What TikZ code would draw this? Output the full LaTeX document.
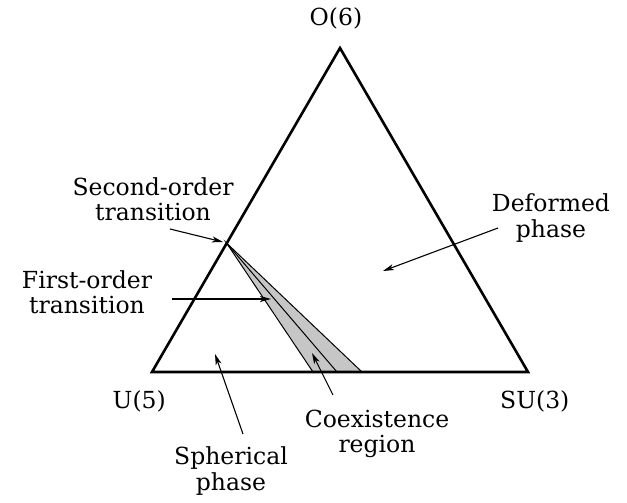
\documentclass[tikz,border=0pt]{standalone}
\usepackage{fontspec}
\setmainfont{DejaVu Serif}
\usetikzlibrary{arrows.meta}

\begin{document}
\begin{tikzpicture}[x=1pt,y=-1pt,>={Stealth[length=11pt,width=6pt,inset=3pt]},
  side/.style={line width=2.6pt,line join=miter},
  pointer/.style={line width=1.1pt,->},
  phasetext/.style={font=\fontsize{23.5}{25.5}\selectfont,align=center,inner sep=0pt}]
  \useasboundingbox (0,0) rectangle (627,503);

  % corners of the triangle and the critical point
  \coordinate (O6) at (340,48);
  \coordinate (U5) at (152,372);
  \coordinate (SU3) at (528,372);
  \coordinate (crit) at (226.5,243);
  \coordinate (coexL) at (313,372);
  \coordinate (coexM) at (337,372);
  \coordinate (coexR) at (362,372);

  % coexistence wedge
  \fill[gray!45] (crit) -- (coexL) -- (coexR) -- cycle;
  \draw[line width=1pt] (coexL) -- (crit) -- (coexR);
  \draw[line width=1pt] (crit) -- (coexM);

  \draw[side] (U5) -- (O6) -- (SU3) -- cycle;

  % corner labels
  \node[phasetext] (o6) at (336,18) {O(6)};
  \node[phasetext,anchor=east] (u5) at (166,401) {U(5)};
  \node[phasetext,anchor=west] (su3) at (500,401) {SU(3)};

  % region labels
  \node[phasetext] (second) at (153,199) {Second-order\\transition};
  \node[phasetext] (first) at (87,292) {First-order\\transition};
  \node[phasetext] (deformed) at (551,218) {Deformed\\phase};
  \node[phasetext] (spherical) at (231,471) {Spherical\\phase};
  \node[phasetext] (coex) at (377,434) {Coexistence\\region};

  % arrow ends
  \coordinate (secTail) at (170,229);
  \coordinate (secTip) at (223,242);
  \coordinate (firstTail) at (172,299);
  \coordinate (firstTip) at (271,299);
  \coordinate (defTail) at (498,228);
  \coordinate (defTip) at (383,271);
  \coordinate (sphTail) at (243,434);
  \coordinate (sphTip) at (215,354);
  \coordinate (coexTail) at (333,395);
  \coordinate (coexTip) at (312,353);

  \draw[pointer] (secTail) -- (secTip);
  \draw[pointer] (firstTail) -- (firstTip);
  \draw[pointer] (defTail) -- (defTip);
  \draw[pointer] (sphTail) -- (sphTip);
  \draw[pointer] (coexTail) -- (coexTip);

\end{tikzpicture}
\end{document}
